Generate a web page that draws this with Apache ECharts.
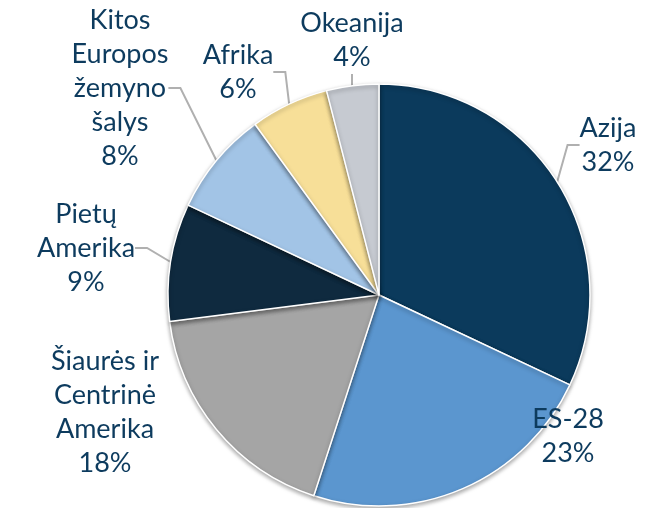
<!DOCTYPE html>
<html lang="lt">
  <head>
    <meta charset="UTF-8" />
    <title>Pie</title>
    <script src="https://cdn.jsdelivr.net/npm/echarts@6/dist/echarts.min.js"></script>
    <style>
      html, body { margin: 0; padding: 0; background: #fff; }
    </style>
  </head>
  <body>
    <div id="chart" style="width: 671px; height: 508px"></div>
    <script>
      // regionai ir dalys (%)
      var names = [
        "Azija",
        "ES-28",
        "Šiaurės ir\nCentrinė\nAmerika",
        "Pietų\nAmerika",
        "Kitos\nEuropos\nžemyno\nšalys",
        "Afrika",
        "Okeanija"
      ];
      var values = [32, 23, 18, 9, 8, 6, 4];
      var colors = ["#0b3a5c", "#5b96cf", "#a5a5a5", "#0f2a3f", "#a2c4e6", "#f7df98", "#c6cad1"];

      // kur dedami užrašai (teksto bloko centras)
      var labelPos = [
        [608, 145],
        [568, 436],
        [105, 412],
        [86, 248],
        [120, 88],
        [238, 72],
        [352, 40]
      ];

      var myChart = echarts.init(document.getElementById("chart"));

      var option = {
        animation: false,
        series: [
          {
            type: "pie",
            center: [379, 295],
            radius: 211,
            startAngle: 90,
            clockwise: true,
            data: names.map(function (n, i) {
              return {
                name: n,
                value: values[i],
                itemStyle: { color: colors[i] },
                // ES-28 ir Šiaurės Amerikos užrašai be linijų
                labelLine: { show: i !== 1 && i !== 2 }
              };
            }),
            itemStyle: {
              borderColor: "#ffffff",
              borderWidth: 1.5,
              shadowColor: "rgba(0,0,0,0.35)",
              shadowBlur: 4,
              shadowOffsetY: 2
            },
            label: {
              formatter: "{b}\n{d}%",
              color: "#0d3b5e",
              fontFamily: "Lato",
              fontSize: 27,
              lineHeight: 34
            },
            labelLine: {
              length: 12,
              length2: 12,
              lineStyle: { color: "#b0b0b0", width: 2 }
            },
            labelLayout: function (params) {
              var p = labelPos[params.dataIndex];
              return { x: p[0], y: p[1], align: "center", verticalAlign: "middle" };
            }
          }
        ]
      };

      myChart.setOption(option);
    </script>
  </body>
</html>
